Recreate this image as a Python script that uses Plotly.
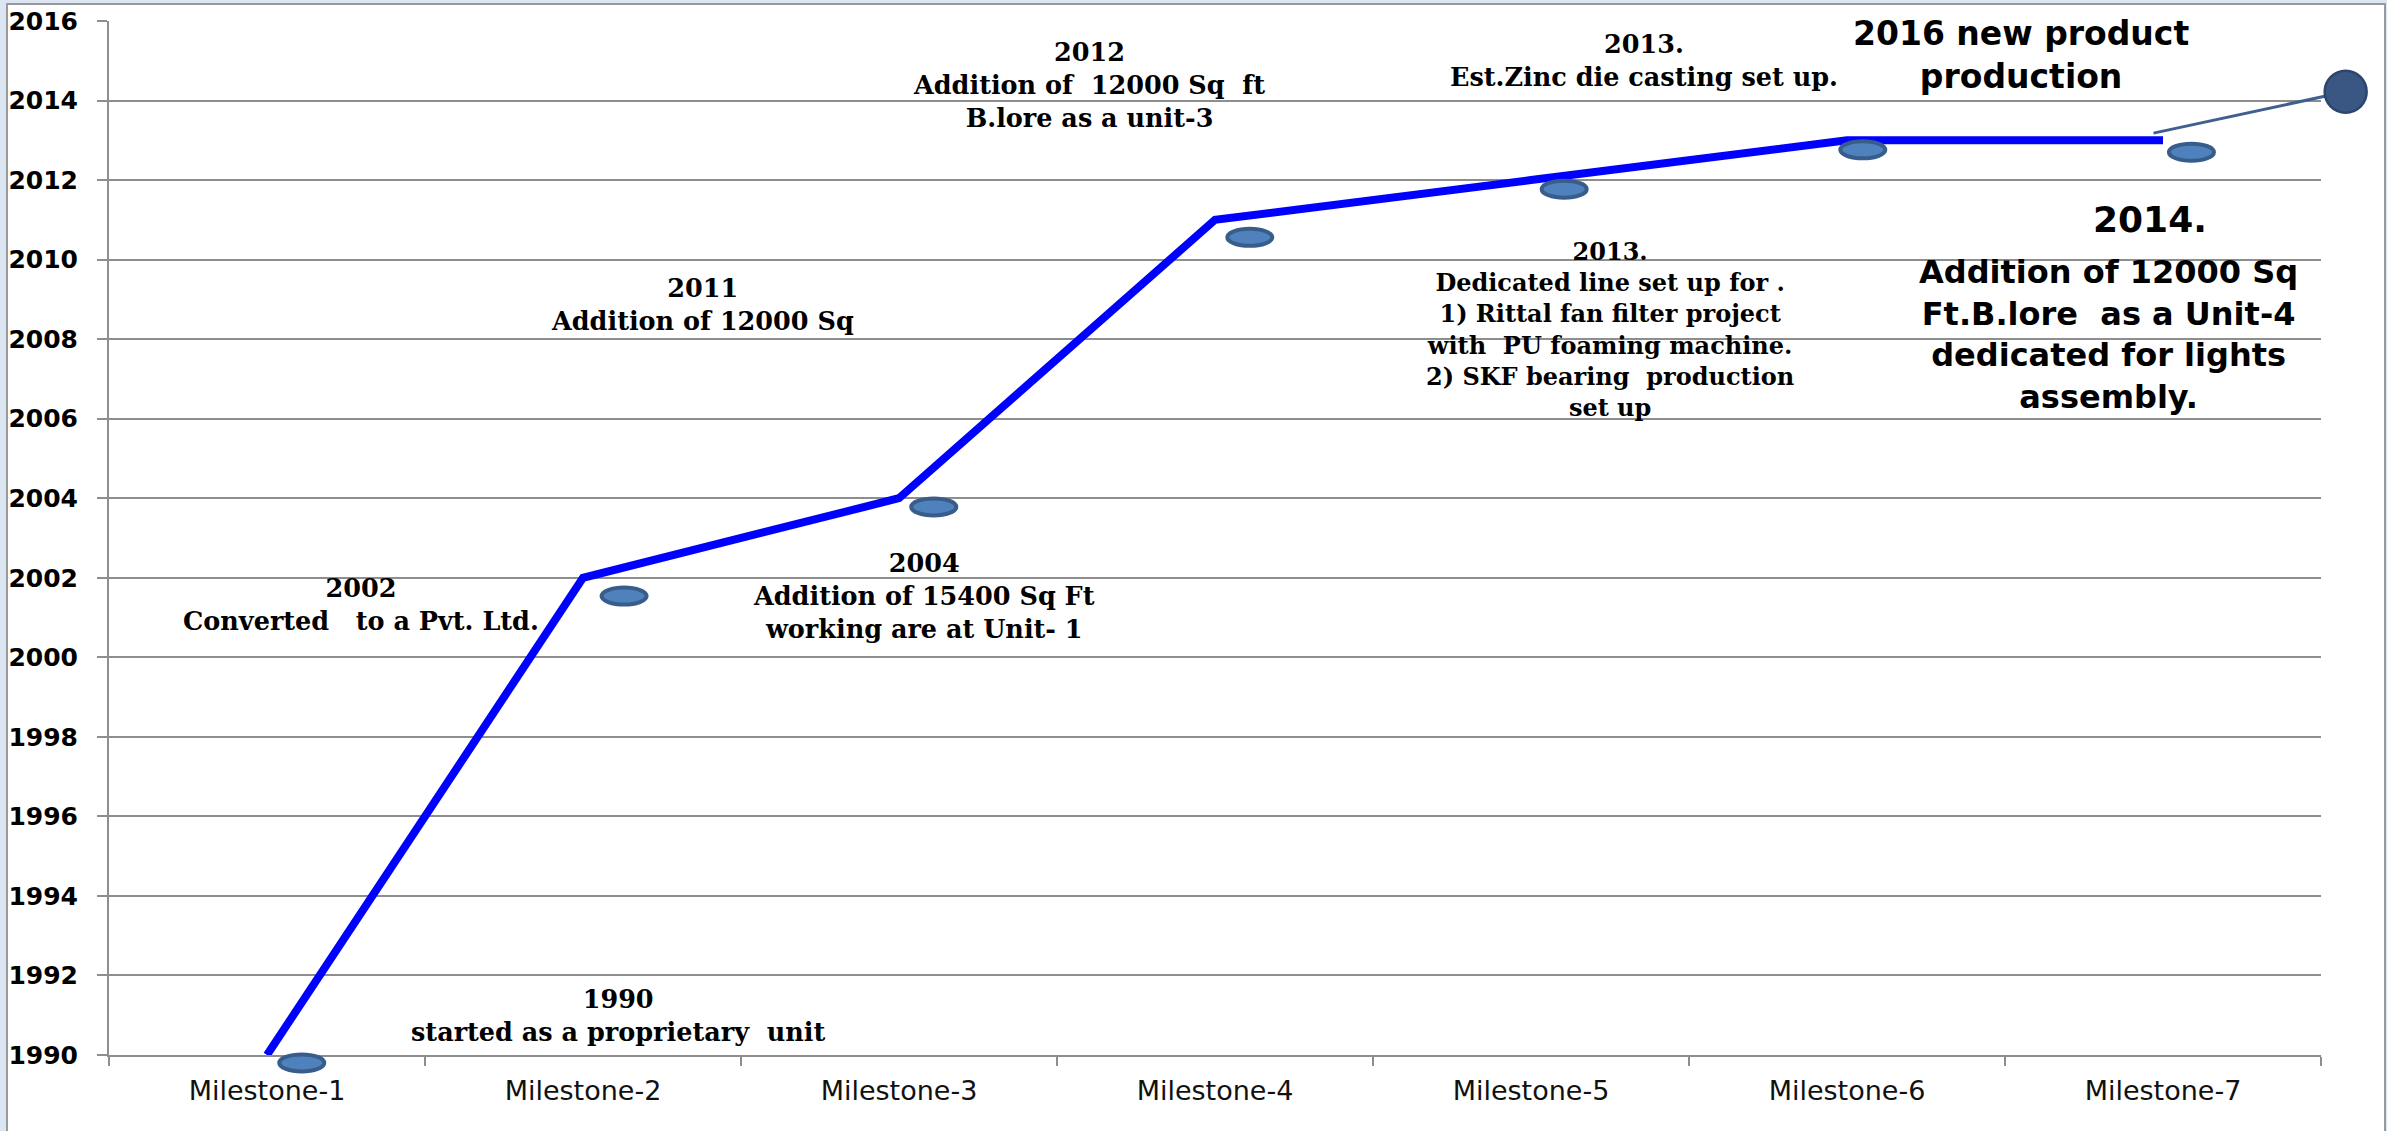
import plotly.graph_objects as go

# ---------------- data ----------------
categories = ["Milestone-1", "Milestone-2", "Milestone-3", "Milestone-4",
              "Milestone-5", "Milestone-6", "Milestone-7"]
years = [1990, 2002, 2004, 2011, 2012, 2013, 2013]

# small oval markers placed beside each milestone (category position, year)
oval_x = [0.11, 1.13, 2.11, 3.11, 4.105, 5.05, 6.09]
oval_y = [1989.8, 2001.54, 2003.78, 2010.56, 2011.77, 2012.76, 2012.70]

# connector to the big dot at top right (category position, year)
connector_x = [5.97, 6.578]
connector_y = [2013.18, 2014.22]

y_ticks = list(range(1990, 2017, 2))

# ---------------- layout constants ----------------
W, H = 2387, 1131
ML, MR, MT, MB = 109, 10, 21, 36
Y_MIN, Y_MAX = 1990, 2016
X_MIN, X_MAX = -0.5, len(categories) - 0.5
box_w = W - ML - MR
box_h = H - MT - MB
main_w, main_h = 2212, 1034
ex = main_w / box_w                      # main x domain end
dy = 1 - main_h / box_h                  # main y domain start
x2_hi = X_MIN + (X_MAX - X_MIN) / ex     # overlay ranges with identical scale
y2_lo = Y_MIN - dy * (Y_MAX - Y_MIN) / (1 - dy)

GRID = "#8E8E8E"
SERIF = "DejaVu Serif"
SANS = "DejaVu Sans"

x_idx = list(range(len(categories)))

fig = go.Figure()

fig.add_trace(go.Scatter(
    x=x_idx, y=years, mode="lines",
    line=dict(color="#0000FF", width=8),
    name="Milestones", showlegend=False))

# anchor trace for the ovals on the overlay subplot
fig.add_trace(go.Scatter(
    x=oval_x, y=oval_y, mode="markers", xaxis="x2", yaxis="y2",
    marker=dict(size=1, opacity=0), showlegend=False, hoverinfo="skip"))

# connector line
fig.add_trace(go.Scatter(
    x=connector_x, y=connector_y, mode="lines", xaxis="x2", yaxis="y2",
    line=dict(color="#3F5F8F", width=3), showlegend=False))

# big dot at the end of the connector
fig.add_trace(go.Scatter(
    x=connector_x[-1:], y=connector_y[-1:], mode="markers", xaxis="x2", yaxis="y2",
    marker=dict(size=42, color="#3A5683", opacity=1,
                line=dict(color="#2C456C", width=2.5)),
    showlegend=False))

shapes = [
    # chart frame
    dict(type="rect", xref="paper", yref="paper",
         x0=(7 - ML) / box_w, x1=(2385 - ML) / box_w,
         y0=-0.2, y1=1 + (MT - 4) / box_h,
         fillcolor="white", line=dict(color="#9A9A9A", width=2), layer="below"),
]
for ox, oy in zip(oval_x, oval_y):
    shapes.append(dict(
        type="circle", xref="x2", yref="y2",
        xsizemode="pixel", ysizemode="pixel",
        xanchor=ox, yanchor=oy,
        x0=-22.5, x1=22.5, y0=-8.5, y1=8.5,
        fillcolor="#4F81BD", line=dict(color="#385D8A", width=4),
        layer="above"))

serif_font = dict(family=SERIF, size=25.5, color="black", weight="bold")
ann = [
    (1.111, 1990.99, "1990<br>started as a proprietary  unit", serif_font),
    (0.297, 2001.33, "2002<br>Converted   to a Pvt. Ltd.", serif_font),
    (2.079, 2001.54, "2004<br>Addition of 15400 Sq Ft<br>working are at Unit- 1", serif_font),
    (1.377, 2008.88, "2011<br>Addition of 12000 Sq", serif_font),
    (2.601, 2014.38, "2012<br>Addition of  12000 Sq  ft<br>B.lore as a unit-3", serif_font),
    (4.358, 2015.01, "2013.<br>Est.Zinc die casting set up.", serif_font),
    (4.25, 2008.24, "2013.<br>Dedicated line set up for .<br>1) Rittal fan filter project"
                    "<br>with  PU foaming machine.<br>2) SKF bearing  production<br>set up",
     dict(family=SERIF, size=24, color="black", weight="bold")),
    (5.551, 2015.14, "2016 new product<br>production",
     dict(family=SANS, size=33, color="black", weight="bold")),
    (5.96, 2011.02, "2014.", dict(family=SANS, size=36, color="black", weight="bold")),
    (5.826, 2008.12, "Addition of 12000 Sq<br>Ft.B.lore  as a Unit-4<br>dedicated for lights<br>assembly.",
     dict(family=SANS, size=32, color="black", weight="bold")),
]
annotations = [dict(x=x, y=y, xref="x", yref="y", text=t, showarrow=False,
                    xanchor="center", yanchor="middle", align="center", font=f)
               for x, y, t, f in ann]

fig.update_layout(
    width=W, height=H,
    margin=dict(l=ML, r=MR, t=MT, b=MB, pad=0),
    paper_bgcolor="#DCE6F2",
    plot_bgcolor="rgba(0,0,0,0)",
    showlegend=False,
    shapes=shapes,
    annotations=annotations,
    xaxis=dict(
        range=[X_MIN, X_MAX], domain=[0, ex],
        tickmode="array", tickvals=x_idx, ticktext=categories,
        ticks="", showgrid=False, zeroline=False,
        showline=True, linecolor=GRID, linewidth=2,
        tickfont=dict(family=SANS, size=27, color="#111111"),
        ticklabelstandoff=11,
        minor=dict(tickmode="array",
                   tickvals=[i - 0.5 for i in range(len(categories) + 1)],
                   ticks="outside", ticklen=9, tickwidth=2, tickcolor=GRID,
                   showgrid=False),
        anchor="y", automargin=False,
    ),
    yaxis=dict(
        range=[Y_MIN, Y_MAX], domain=[dy, 1],
        tickmode="array", tickvals=y_ticks,
        ticks="outside", ticklen=10, tickwidth=2, tickcolor=GRID,
        showgrid=True, gridcolor=GRID, gridwidth=2,
        zeroline=False, showline=True, linecolor=GRID, linewidth=2,
        tickfont=dict(family=SANS, size=25, color="black", weight="bold"),
        ticklabelstandoff=14,
        anchor="x", automargin=False,
    ),
    xaxis2=dict(
        range=[X_MIN, x2_hi], domain=[0, 1], anchor="y2",
        visible=False, showgrid=False, zeroline=False, automargin=False,
    ),
    yaxis2=dict(
        range=[y2_lo, Y_MAX], domain=[0, 1], anchor="x2",
        visible=False, showgrid=False, zeroline=False, automargin=False,
    ),
)

fig.write_html(
    "out.html",
    config={"displayModeBar": False},
    post_script="document.body.style.margin='0';document.body.style.overflow='hidden';",
)
